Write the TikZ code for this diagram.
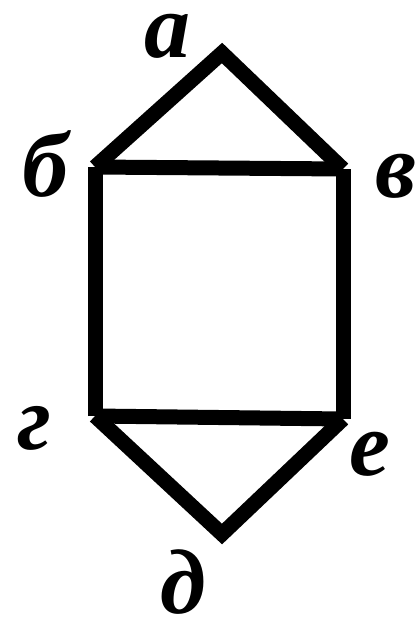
\documentclass[tikz,border=0pt]{standalone}
\usepackage{fontspec}
\setmainfont{Liberation Serif}
\usetikzlibrary{positioning}
\tikzset{
  edge/.style={line width=15pt, line join=miter, black},
  vlabel/.style={font=\fontsize{92}{92}\selectfont\bfseries\itshape, inner sep=0pt}
}

\begin{document}
\begin{tikzpicture}[x=1pt, y=-1pt]
        \useasboundingbox (0,0) rectangle (419,624);

        % vertices
        \coordinate (a) at (222, 53);
        \coordinate (b) at (95, 167);
        \coordinate (v) at (343, 169);
        \coordinate (g) at (95, 416);
        \coordinate (e) at (343, 419);
        \coordinate (d) at (222, 534);

        % edges
        \draw[edge] (b) -- (a) -- (v);
        \draw[edge] (b) -- (v);
        \draw[edge] (v) -- (e);
        \draw[edge] (g) -- (b);
        \draw[edge] (g) -- (e);
        \draw[edge] (g) -- (d) -- (e);

        % labels
        \node[vlabel] (la) at (167, 36) {а};
        \node[vlabel] (lb) at (45, 164) {б};
        \node[vlabel] (lv) at (396, 176) {в};
        \node[vlabel] (lg) at (34, 428) {г};
        \node[vlabel] (le) at (370, 454) {е};
        \node[vlabel] (ld) at (183, 582) {д};
      \end{tikzpicture}
\end{document}
